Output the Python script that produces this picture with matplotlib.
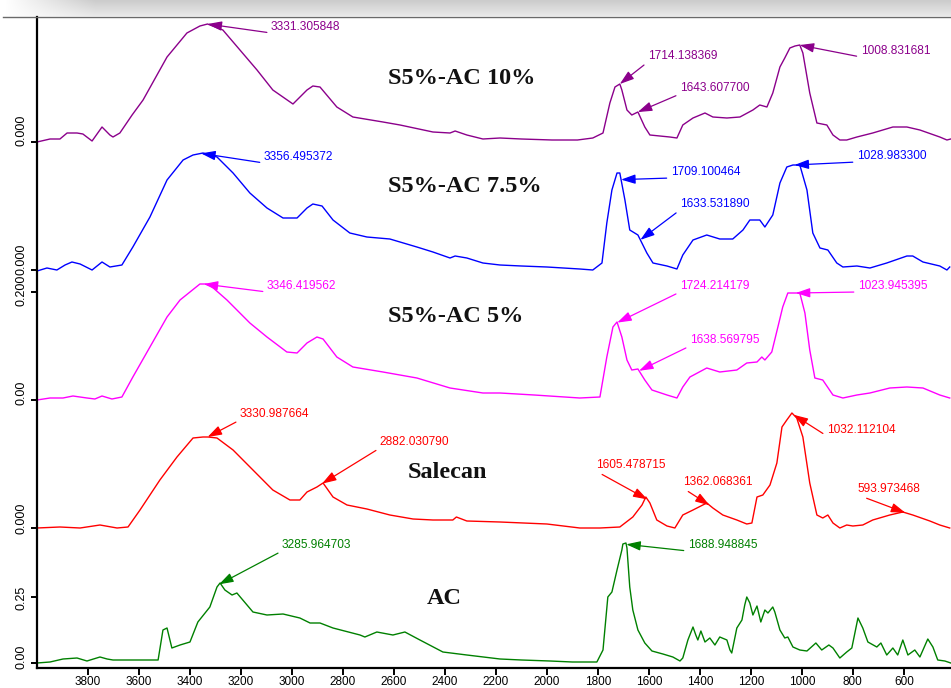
import numpy as np
import matplotlib
matplotlib.use("Agg")
import matplotlib.pyplot as plt
import matplotlib.transforms as mtransforms
from matplotlib.lines import Line2D

# ---------------- data (wavenumber cm-1, intensity above own baseline, a.u.) ----------------
ac10_wn = [4000, 3949, 3910, 3882, 3843, 3820, 3784, 3745, 3714, 3702, 3675, 3627, 3584, 3490,
           3412, 3361, 3331, 3271, 3204, 3137, 3075, 2996, 2941, 2918, 2890, 2824, 2761, 2643,
           2576, 2447, 2380, 2360, 2314, 2251, 2184, 2100, 1980, 1880, 1820, 1780, 1753, 1733,
           1714, 1706, 1686, 1667, 1643, 1616, 1596, 1557, 1518, 1490, 1467, 1427, 1380, 1349,
           1294, 1243, 1192, 1165, 1137, 1114, 1086, 1067, 1047, 1027, 1008, 996, 969, 941,
           902, 878, 851, 824, 784, 722, 643, 588, 537, 459, 431, 416]
ac10_val = [0, 3, 3, 9, 9, 8, 1, 15, 7, 5, 9, 27, 42, 85,
            109, 116, 118, 112, 92, 72, 52, 38, 52, 56, 55, 35, 25, 20,
            17, 10, 9, 11, 7, 3, 4, 3, 2, 2, 4, 9, 39, 55,
            58, 52, 32, 27, 30, 15, 7, 6, 5, 4, 17, 24, 29, 25,
            24, 25, 32, 37, 35, 49, 75, 84, 94, 96, 97, 89, 49, 19,
            17, 7, 2, 2, 5, 9, 15, 15, 12, 5, 2, 3]

ac75_wn = [4000, 3961, 3922, 3890, 3863, 3831, 3784, 3745, 3714, 3667, 3624, 3557, 3490, 3427,
           3388, 3349, 3294, 3231, 3165, 3098, 3035, 2980, 2941, 2918, 2882, 2839, 2773, 2706,
           2616, 2510, 2447, 2380, 2360, 2314, 2251, 2184, 2100, 2000, 1871, 1820, 1784, 1765,
           1745, 1725, 1714, 1694, 1675, 1643, 1608, 1584, 1529, 1490, 1467, 1427, 1373, 1322,
           1271, 1231, 1204, 1165, 1145, 1114, 1086, 1059, 1035, 1008, 980, 957, 929, 898,
           863, 839, 784, 733, 667, 588, 565, 525, 459, 431, 420]
ac75_val = [-1, 2, 0, 5, 8, 6, 0, 8, 3, 5, 23, 53, 90, 110,
            115, 117, 113, 97, 77, 62, 52, 52, 62, 66, 64, 50, 37, 33,
            31, 23, 18, 12, 14, 12, 7, 5, 4, 3, 1, 0, 7, 47,
            80, 97, 97, 70, 40, 35, 17, 7, 4, 1, 15, 30, 35, 31,
            31, 40, 50, 50, 43, 55, 87, 103, 105, 105, 80, 37, 22, 20,
            7, 3, 4, 2, 7, 14, 14, 8, 4, 0, 3]

ac5_wn = [4000, 3949, 3898, 3859, 3804, 3773, 3745, 3706, 3667, 3624, 3557, 3490, 3439, 3361,
          3341, 3322, 3255, 3165, 3098, 3020, 2980, 2941, 2902, 2878, 2824, 2761, 2643, 2510,
          2380, 2251, 2184, 2050, 1871, 1792, 1765, 1741, 1725, 1706, 1686, 1667, 1643, 1616,
          1588, 1529, 1490, 1467, 1439, 1373, 1322, 1255, 1216, 1176, 1157, 1145, 1118, 1094,
          1075, 1055, 1035, 1008, 988, 969, 949, 918, 878, 839, 784, 733, 655, 588,
          525, 459, 420]
ac5_val = [0, 2, 2, 4, 2, 1, 4, 1, 3, 23, 53, 83, 100, 116,
           116, 115, 100, 77, 63, 48, 47, 57, 63, 61, 43, 33, 28, 22,
           12, 7, 7, 5, 2, 3, 43, 73, 78, 63, 40, 30, 31, 20,
           10, 5, 2, 13, 23, 32, 28, 30, 37, 38, 43, 40, 48, 73,
           93, 107, 107, 107, 87, 50, 22, 20, 5, 2, 5, 7, 12, 13,
           12, 5, 2]

sal_wn = [4000, 3910, 3831, 3753, 3686, 3643, 3596, 3518, 3451, 3388, 3349, 3329, 3294, 3231,
          3153, 3075, 3008, 2969, 2941, 2902, 2878, 2839, 2784, 2706, 2616, 2525, 2447, 2369,
          2355, 2314, 2184, 2000, 1871, 1792, 1714, 1663, 1627, 1612, 1596, 1569, 1529, 1498,
          1467, 1427, 1373, 1349, 1310, 1255, 1216, 1196, 1176, 1153, 1125, 1098, 1078, 1059,
          1039, 1020, 996, 969, 941, 918, 898, 878, 851, 824, 800, 761, 722, 655,
          604, 565, 498, 459, 420]
sal_val = [0, 1, 0, 3, 0, 1, 18, 48, 71, 90, 91, 91, 90, 78,
           58, 38, 28, 28, 36, 41, 45, 31, 23, 19, 13, 9, 8, 8,
           11, 7, 6, 4, 0, 0, 1, 11, 23, 31, 25, 8, 2, 0,
           13, 18, 25, 20, 13, 8, 4, 5, 31, 33, 43, 65, 101, 108,
           115, 110, 91, 45, 13, 10, 13, 5, 0, 3, 2, 3, 8, 13,
           16, 13, 7, 3, 0]

ac_wn = [4000, 3949, 3898, 3843, 3804, 3753, 3725, 3702, 3624, 3525, 3506, 3490, 3471, 3439,
         3400, 3369, 3322, 3294, 3282, 3263, 3235, 3216, 3153, 3098, 3035, 2969, 2929, 2890,
         2839, 2733, 2714, 2667, 2604, 2557, 2498, 2408, 2314, 2184, 2100, 1988, 1900, 1871,
         1804, 1780, 1761, 1745, 1725, 1706, 1702, 1690, 1686, 1675, 1663, 1643, 1616, 1588,
         1545, 1506, 1478, 1467, 1447, 1427, 1416, 1408, 1396, 1380, 1361, 1341, 1322, 1294,
         1282, 1275, 1255, 1235, 1224, 1216, 1204, 1192, 1176, 1161, 1145, 1133, 1114, 1106,
         1086, 1067, 1055, 1035, 1008, 980, 945, 922, 894, 878, 851, 824, 804, 780,
         761, 741, 706, 690, 667, 643, 624, 604, 584, 557, 537, 506, 486, 467,
         439, 416]
ac_val = [0, 1, 4, 5, 2, 6, 4, 3, 3, 3, 33, 35, 15, 18,
          21, 41, 56, 76, 80, 73, 68, 70, 51, 48, 49, 45, 40, 40,
          35, 28, 26, 31, 28, 31, 23, 11, 8, 4, 3, 2, 1, 1,
          1, 13, 66, 71, 93, 113, 119, 120, 115, 76, 53, 33, 20, 12,
          9, 6, 2, 5, 23, 36, 28, 23, 32, 21, 25, 18, 26, 23,
          13, 10, 35, 43, 58, 66, 60, 48, 57, 41, 53, 50, 56, 51,
          33, 25, 26, 16, 13, 12, 20, 13, 18, 15, 5, 11, 15, 45,
          35, 21, 16, 20, 8, 15, 8, 23, 8, 13, 6, 24, 16, 3,
          2, 0]

series_names = ["S5%-AC 10%", "S5%-AC 7.5%", "S5%-AC 5%", "Salecan", "AC"]
series_wn = [ac10_wn, ac75_wn, ac5_wn, sal_wn, ac_wn]
series_val = [ac10_val, ac75_val, ac5_val, sal_val, ac_val]
series_offset = [526, 398, 268, 140, 5]
series_colors = ["#8b008b", "#0000ff", "#ff00ff", "#ff0000", "#008000"]

# peak labels: (label, text x [cm-1], text y [a.u.])
peaks = [
    [("3331.305848", 3082, 641), ("1714.138369", 1604, 612), ("1643.607700", 1478, 580),
     ("1008.831681", 769, 617)],
    [("3356.495372", 3110, 511), ("1709.100464", 1514, 496), ("1633.531890", 1478, 464),
     ("1028.983300", 784, 512)],
    [("3346.419562", 3098, 382), ("1724.214179", 1478, 382), ("1638.569795", 1439, 328),
     ("1023.945395", 780, 382)],
    [("3330.987664", 3204, 254), ("2882.030790", 2655, 226), ("1605.478715", 1808, 203),
     ("1362.068361", 1467, 186), ("1032.112104", 902, 238), ("593.973468", 780, 179)],
    [("3285.964703", 3039, 123), ("1688.948845", 1447, 123)],
]
name_pos = [(2624, 590), (2624, 482), (2624, 352), (2545, 196), (2471, 69)]

x_ticks = [3800, 3600, 3400, 3200, 3000, 2800, 2600, 2400, 2200, 2000, 1800, 1600, 1400,
           1200, 1000, 800, 600]
y_ticks = [526, 398, 376, 268, 140, 71, 5]
y_ticklabels = ["0.000", "0.000", "0.200", "0.00", "0.000", "0.25", "0.00"]
y_label_shift_px = [12, 11, 2, 7, 10, -1, 6]

# ---------------- figure ----------------
W, H = 951, 688
fig = plt.figure(figsize=(W / 100, H / 100), dpi=100)
fig.patch.set_facecolor("white")

# screenshot header band
band = fig.add_axes([0, (H - 16) / H, 1, 16 / H])
band.axis("off")
v = np.linspace(0.80, 0.91, 16)[:, None]
xx = np.arange(W)[None, :]
wfade = np.clip((xx - 5) / 90.0, 0, 1)
g = 1 - (1 - v) * wfade
band.imshow(np.dstack([g, g, g]), aspect="auto", extent=(0, 1, 0, 1))
band.set_xlim(0, 1)
band.set_ylim(0, 1)
fig.add_artist(Line2D([3 / W, 1], [(H - 16.5) / H] * 2, color="#6a6a6a", lw=1.0,
                      transform=fig.transFigure))

ax = fig.add_axes([37 / W, 20 / H, (W - 37) / W, (668 - 17) / H])
ax.set_xlim(4000, 415)
ax.set_ylim(0, 651)
for s in ("top", "right"):
    ax.spines[s].set_visible(False)
for s in ("left", "bottom"):
    ax.spines[s].set_linewidth(1.6)
    ax.spines[s].set_color("black")

for wn, val, off, col in zip(series_wn, series_val, series_offset, series_colors):
    ax.plot(wn, np.array(val) + off, color=col, lw=1.0, solid_joinstyle="round")

for name, (tx, ty) in zip(series_names, name_pos):
    ax.text(tx, ty, name, fontsize=17.5, fontweight="bold", family="Liberation Serif",
            ha="left", va="center", color="#111111")

for plist, wn, val, off, col in zip(peaks, series_wn, series_val, series_offset, series_colors):
    wn_a = np.array(wn, dtype=float)[::-1]
    val_a = np.array(val, dtype=float)[::-1]
    for lab, tx, ty in plist:
        p = float(lab)
        py = np.interp(p, wn_a, val_a) + off
        ax.annotate(lab, xy=(p, py), xytext=(tx, ty), textcoords="data",
                    fontsize=8.6, family="Liberation Sans", color=col,
                    ha="left", va="center",
                    arrowprops=dict(arrowstyle="-|>,head_length=1.0,head_width=0.33",
                                    color=col, lw=0.9, shrinkA=1, shrinkB=0,
                                    relpos=(0, 0)))

ax.set_xticks(x_ticks)
ax.set_xticklabels([str(t) for t in x_ticks], family="Liberation Sans", fontsize=8.5)
ax.tick_params(axis="x", direction="out", length=5, width=1.4, pad=0.5)
ax.set_yticks(y_ticks)
ax.set_yticklabels(y_ticklabels, family="Liberation Sans", fontsize=9, rotation=90,
                   va="center")
ax.tick_params(axis="y", direction="out", length=4, width=1.4, pad=3)
for lbl, sh in zip(ax.get_yticklabels(), y_label_shift_px):
    lbl.set_transform(lbl.get_transform() +
                      mtransforms.ScaledTranslation(0, sh / 100, fig.dpi_scale_trans))

fig.savefig("out.png", dpi=100)
